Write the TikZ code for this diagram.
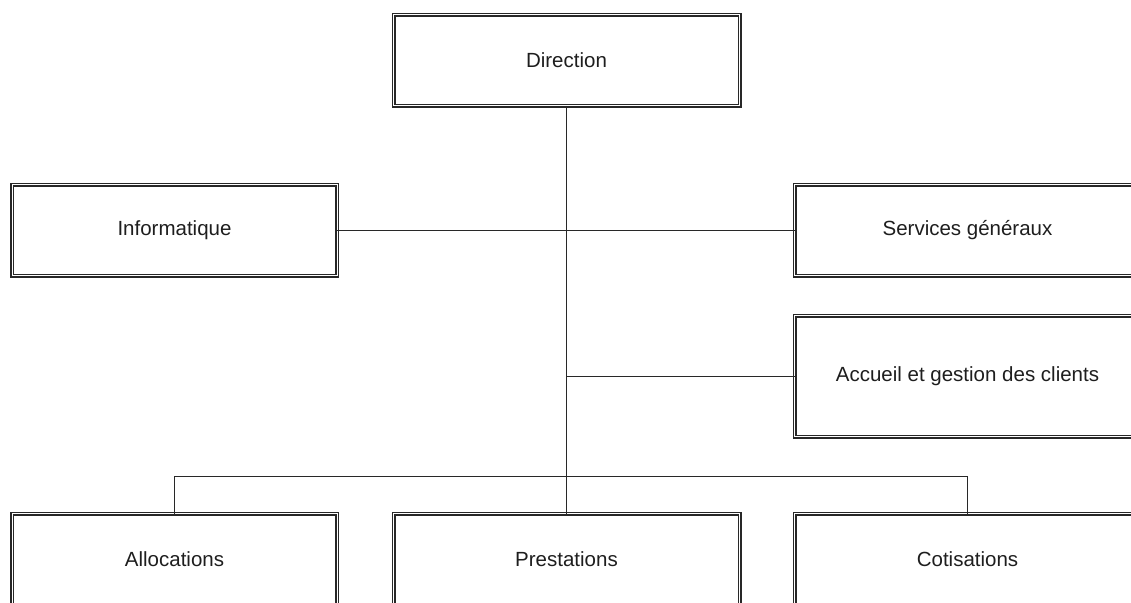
\documentclass[tikz,border=0pt]{standalone}
\usepackage{fontspec}
\setmainfont{Liberation Sans}
\usetikzlibrary{shapes,arrows}
\definecolor{boxline}{RGB}{40,40,40}
\definecolor{boxtext}{RGB}{30,30,30}

\begin{document}
\begin{tikzpicture}[x=0.5pt,y=-0.5pt,
  unit/.style={draw=boxline, double, double distance=0.5pt, line width=0.75pt,
    inner sep=0pt, outer sep=0pt, minimum width=173pt, minimum height=45.5pt,
    text=boxtext, font=\fontsize{10.25}{12}\selectfont},
  link/.style={draw=boxline, line width=0.55pt}]
\useasboundingbox (0,0) rectangle (1131,603);
\node[unit] (direction) at (566.5,60.5) {Direction};
\node[unit, minimum width=162.5pt] (informatique) at (174.5,230.5) {Informatique};
\node[unit] (services) at (967.5,230.5) {Services généraux};
\node[unit, minimum height=60.5pt] (accueil) at (967.5,376.5) {Accueil et gestion des clients};
\node[unit, minimum width=162.5pt] (allocations) at (174.5,559.5) {Allocations};
\node[unit] (prestations) at (566.5,559.5) {Prestations};
\node[unit] (cotisations) at (967.5,559.5) {Cotisations};
\coordinate (accueiljoin) at (566.5,376.5);
\coordinate (bar) at (566.5,476.5);
\draw[link] (direction) -- (prestations);
\draw[link] (informatique) -- (services);
\draw[link] (accueil) -- (accueiljoin);
\draw[link] (allocations) |- (bar) -| (cotisations);
\end{tikzpicture}
\end{document}
